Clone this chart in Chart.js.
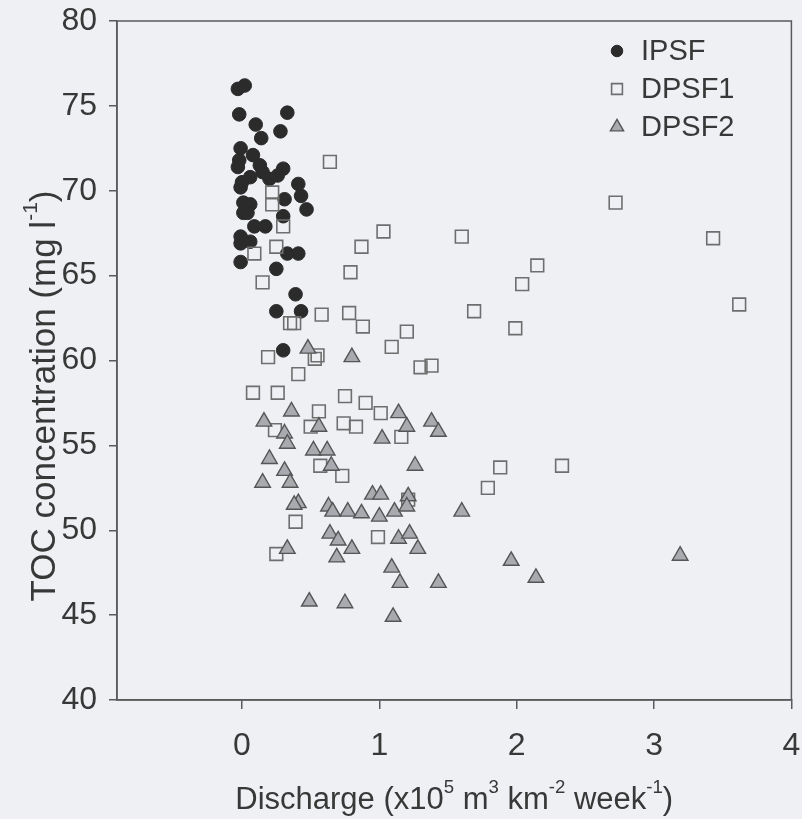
<!DOCTYPE html>
<html>
<head>
<meta charset="utf-8">
<title>TOC concentration vs discharge</title>
<script src="https://cdn.jsdelivr.net/npm/chart.js@4.4.1/dist/chart.umd.min.js"></script>
<style>
  body { margin: 0; background: #eff0f4; }
  canvas { display: block; }
</style>
</head>
<body>
<canvas id="tocChart" width="802" height="819"></canvas>
<script>
// IPSF (filled circles)
const ipsfX = [-0.03, 0.02, -0.02, 0.33, 0.10, 0.28, 0.14, -0.01, 0.08, -0.02, -0.03, 0.13, 0.15, 0.30,
    0.06, 0.00, 0.20, 0.26, 0.41, 0.43, 0.31, 0.47, -0.01, 0.01, 0.06, 0.01, 0.04, 0.30, 0.09, 0.17,
    -0.01, -0.01, 0.06, 0.33, 0.41, -0.01, 0.25, 0.39, 0.25, 0.43, 0.30];
const ipsfY = [76.0, 76.2, 74.5, 74.6, 73.9, 73.5, 73.1, 72.5, 72.1, 71.8, 71.4, 71.5, 71.1, 71.3,
    70.8, 70.5, 70.7, 70.9, 70.4, 69.7, 69.5, 68.9, 70.2, 69.3, 69.2, 68.7, 68.7, 68.5, 67.9, 67.9,
    67.3, 66.9, 67.0, 66.3, 66.3, 65.8, 65.4, 63.9, 62.9, 62.9, 60.6];

// DPSF1 (open squares)
const dpsf1X = [0.64, 0.22, 0.22, 0.30, 1.03, 0.25, 0.09, 0.87, 0.79, 0.15, 0.58, 0.78, 0.35, 0.38,
    0.88, 1.20, 1.09, 0.55, 0.53, 0.19, 0.41, 0.08, 0.26, 0.75, 0.90, 1.01, 0.56, 0.50, 0.24, 0.74,
    0.83, 1.16, 0.57, 0.73, 0.39, 0.99, 0.25, 1.21, 1.88, 2.33, 1.79, 1.60, 2.15, 2.04, 1.69, 1.99,
    2.72, 3.43, 3.62, 1.30, 1.38];
const dpsf1Y = [71.7, 69.9, 69.2, 67.9, 67.6, 66.7, 66.3, 66.7, 65.2, 64.6, 62.7, 62.8, 62.2, 62.2,
    62.0, 61.7, 60.8, 60.3, 60.1, 60.2, 59.2, 58.1, 58.1, 57.9, 57.5, 56.9, 57.0, 56.1, 55.9, 56.3,
    56.1, 55.5, 53.8, 53.2, 50.5, 49.6, 48.6, 51.8, 53.7, 53.8, 52.5, 67.3, 65.6, 64.5, 62.9, 61.9,
    69.3, 67.2, 63.3, 59.6, 59.7];

// DPSF2 (grey triangles)
const dpsf2X = [0.48, 0.80, 0.36, 0.16, 0.56, 0.31, 0.33, 1.14, 1.20, 1.02, 0.52, 0.62, 0.20, 0.31,
    0.65, 1.26, 0.35, 0.15, 0.41, 0.38, 0.63, 0.66, 0.77, 0.87, 0.95, 1.01, 1.00, 1.11, 1.21, 1.20,
    0.64, 0.70, 0.80, 0.69, 0.33, 1.14, 1.22, 1.28, 1.09, 1.15, 0.49, 0.75, 1.10, 1.38, 1.43, 1.60,
    1.43, 1.96, 2.14, 3.19];
const dpsf2Y = [60.7, 60.2, 57.0, 56.4, 56.1, 55.7, 55.1, 56.9, 56.1, 55.4, 54.7, 54.7, 54.2, 53.5,
    53.8, 53.8, 52.8, 52.8, 51.6, 51.5, 51.4, 51.1, 51.1, 51.0, 52.1, 52.1, 50.8, 51.1, 52.0, 51.4,
    49.8, 49.4, 48.9, 48.4, 48.9, 49.5, 49.8, 48.9, 47.8, 46.9, 45.8, 45.7, 44.9, 56.4, 55.8, 51.1,
    46.9, 48.2, 47.2, 48.5];

const xTicks = [0, 1, 2, 3, 4];
const yTicks = [40, 45, 50, 55, 60, 65, 70, 75, 80];

const fontFamily = "'Liberation Sans', Arial, sans-serif";
const textColor = '#383838';
const axisColor = '#5a5a5a';

const toPoints = (xs, ys) => xs.map((x, i) => ({ x: x, y: ys[i] }));

// axis titles with superscripts
const xTitle = [{ t: 'Discharge (x10' }, { t: '5', sup: true }, { t: ' m' }, { t: '3', sup: true },
    { t: ' km' }, { t: '-2', sup: true }, { t: ' week' }, { t: '-1', sup: true }, { t: ')' }];
const yTitle = [{ t: 'TOC concentration (mg l' }, { t: '-1', sup: true }, { t: ')' }];

function drawRich(ctx, parts, size) {
    let total = 0;
    parts.forEach(p => {
        ctx.font = (p.sup ? size * 0.6 : size) + 'px ' + fontFamily;
        p.w = ctx.measureText(p.t).width;
        total += p.w;
    });
    let x = -total / 2;
    parts.forEach(p => {
        ctx.font = (p.sup ? size * 0.6 : size) + 'px ' + fontFamily;
        ctx.fillText(p.t, x, p.sup ? -size * 0.4 : 0);
        x += p.w;
    });
}

const extras = {
    id: 'extras',
    beforeDraw(chart) {
        const ctx = chart.ctx;
        ctx.save();
        ctx.fillStyle = '#eff0f4';
        ctx.fillRect(0, 0, chart.width, chart.height);
        ctx.restore();
    },
    afterDraw(chart) {
        const ctx = chart.ctx;
        const a = chart.chartArea;
        ctx.save();
        // frame
        ctx.strokeStyle = axisColor;
        ctx.lineWidth = 1.5;
        ctx.strokeRect(a.left, a.top, a.right - a.left, a.bottom - a.top);

        // titles
        ctx.fillStyle = textColor;
        ctx.textBaseline = 'middle';
        ctx.textAlign = 'left';
        ctx.save();
        ctx.translate((a.left + a.right) / 2, 800);
        drawRich(ctx, xTitle, 31);
        ctx.restore();
        ctx.save();
        ctx.translate(45, 396);
        ctx.rotate(-Math.PI / 2);
        drawRich(ctx, yTitle, 35);
        ctx.restore();

        // legend
        chart.data.datasets.forEach((ds, i) => {
            const y = 51 + i * 38;
            ctx.fillStyle = ds.backgroundColor;
            ctx.strokeStyle = ds.borderColor;
            ctx.lineWidth = ds.borderWidth;
            Chart.helpers.drawPoint(ctx, {
                pointStyle: ds.pointStyle,
                radius: ds.pointRadius * 0.85,
                rotation: 0,
                borderWidth: ds.borderWidth
            }, 617, y);
            ctx.fillStyle = textColor;
            ctx.font = '29px ' + fontFamily;
            ctx.fillText(ds.label, 641, y + 1);
        });
        ctx.restore();
    }
};

const ctx = document.getElementById('tocChart').getContext('2d');
const tocChart = new Chart(ctx, {
    type: 'scatter',
    data: {
        datasets: [{
            label: 'IPSF',
            data: toPoints(ipsfX, ipsfY),
            pointStyle: 'circle',
            pointRadius: 6.8,
            backgroundColor: '#2b2b2b',
            borderColor: '#2b2b2b',
            borderWidth: 1,
            order: 3
        }, {
            label: 'DPSF1',
            data: toPoints(dpsf1X, dpsf1Y),
            pointStyle: 'rect',
            pointRadius: 9,
            backgroundColor: 'rgba(0,0,0,0)',
            borderColor: '#6e6e6e',
            borderWidth: 1.6,
            order: 2
        }, {
            label: 'DPSF2',
            data: toPoints(dpsf2X, dpsf2Y),
            pointStyle: 'triangle',
            pointRadius: 9,
            backgroundColor: '#a8aab0',
            borderColor: '#555555',
            borderWidth: 1.4,
            order: 1
        }]
    },
    options: {
        responsive: false,
        animation: false,
        layout: { padding: { top: 21, right: 6, left: 0, bottom: 0 } },
        plugins: {
            legend: { display: false },
            tooltip: { enabled: false }
        },
        scales: {
            x: {
                type: 'linear',
                min: -0.91,
                max: 4,
                afterBuildTicks: scale => { scale.ticks = xTicks.map(v => ({ value: v })); },
                afterFit: scale => { scale.height = 119; scale.paddingLeft = 0; scale.paddingRight = 0; },
                grid: { display: true, drawOnChartArea: false, drawTicks: true, tickLength: 9, color: axisColor, lineWidth: 1.5 },
                border: { display: true, color: axisColor, width: 1.5 },
                ticks: { color: textColor, font: { family: fontFamily, size: 32 }, padding: 18, maxRotation: 0 }
            },
            y: {
                type: 'linear',
                min: 40,
                max: 80,
                afterBuildTicks: scale => { scale.ticks = yTicks.map(v => ({ value: v })); },
                afterFit: scale => { scale.width = 117; scale.paddingTop = 0; scale.paddingBottom = 0; },
                grid: { display: true, drawOnChartArea: false, drawTicks: true, tickLength: 8, color: axisColor, lineWidth: 1.5 },
                border: { display: true, color: axisColor, width: 1.5 },
                ticks: { color: textColor, font: { family: fontFamily, size: 32 }, padding: 12 }
            }
        }
    },
    plugins: [extras]
});
</script>
</body>
</html>
